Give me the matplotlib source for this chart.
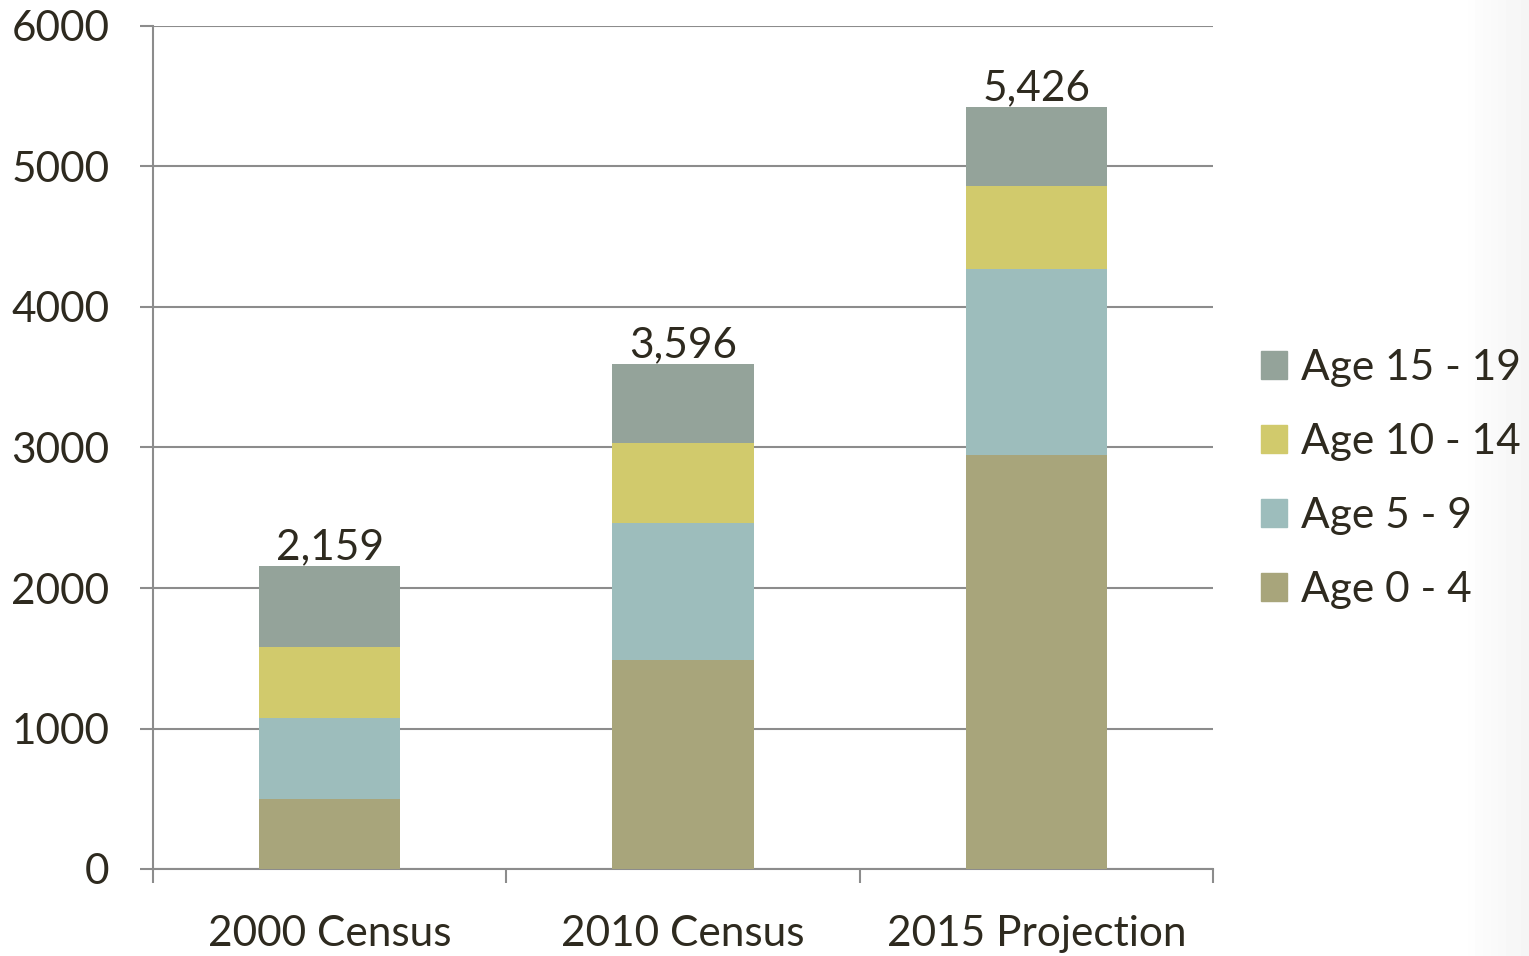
import numpy as np
import matplotlib.pyplot as plt
from matplotlib.patches import Patch

plt.rcParams['font.family'] = ['Lato', 'DejaVu Sans']

# data
categories = ['2000 Census', '2010 Census', '2015 Projection']
age_0_4 = [500, 1488, 2947]
age_5_9 = [575, 975, 1323]
age_10_14 = [505, 569, 591]
age_15_19 = [579, 564, 565]
totals = ['2,159', '3,596', '5,426']

series = [('Age 0 - 4', age_0_4, '#A8A57B'),
          ('Age 5 - 9', age_5_9, '#9DBDBC'),
          ('Age 10 - 14', age_10_14, '#D1CA6C'),
          ('Age 15 - 19', age_15_19, '#94A39A')]

txt = '#2E2A1F'
grid = '#8C8C8C'
fs = 30.5

fig = plt.figure(figsize=(15.29, 9.56), dpi=100)

# faint grey shading at the right edge
bg = fig.add_axes([0, 0, 1, 1], zorder=-5)
grad = np.linspace(0, 1, 200)
grad = np.clip((grad - 0.96) / 0.04, 0, 1) * 0.08
bg.imshow(np.tile(grad, (10, 1)), cmap='Greys', vmin=0, vmax=1, aspect='auto',
          extent=[0, 1, 0, 1])
bg.axis('off')

ax = fig.add_axes([153/1529, 87/956, 1060/1529, 843/956])
ax.patch.set_alpha(0)

x = np.arange(len(categories))
bottom = np.zeros(len(categories))
for name, vals, col in series:
    ax.bar(x, vals, 0.4, bottom=bottom, color=col, label=name, zorder=3)
    bottom += np.array(vals)

for xi, top, lab in zip(x, bottom, totals):
    ax.text(xi, top - 5, lab, ha='center', va='bottom', fontsize=fs, color=txt)

ax.set_xlim(-0.5, 2.5)
ax.set_ylim(0, 6000)
ax.set_yticks(range(0, 6001, 1000))
ax.yaxis.grid(True, color=grid, linewidth=1.5, zorder=0)
ax.set_xticks(x)
ax.set_xticklabels(categories)
ax.set_xticks([-0.5, 0.5, 1.5, 2.5], minor=True)
ax.tick_params(axis='x', which='major', length=0, pad=33, labelsize=fs, labelcolor=txt)
ax.tick_params(axis='x', which='minor', length=10, width=1.5, color=grid, direction='out')
ax.tick_params(axis='y', length=9.5, width=1.5, color=grid, pad=22, labelsize=fs, labelcolor=txt)
for s in ['top', 'right']:
    ax.spines[s].set_visible(False)
for s in ['left', 'bottom']:
    ax.spines[s].set_color(grid)
    ax.spines[s].set_linewidth(1.5)

handles = [Patch(color=c, label=n) for n, v, c in series][::-1]
fig.legend(handles=handles, loc='center left', bbox_to_anchor=(1261/1529, 1 - 479/956),
           frameon=False, fontsize=fs, labelcolor=txt, handlelength=0.62, handleheight=0.62,
           handletextpad=0.32, labelspacing=0.85, borderpad=0, borderaxespad=0)

fig.savefig('out.png', dpi=100)
